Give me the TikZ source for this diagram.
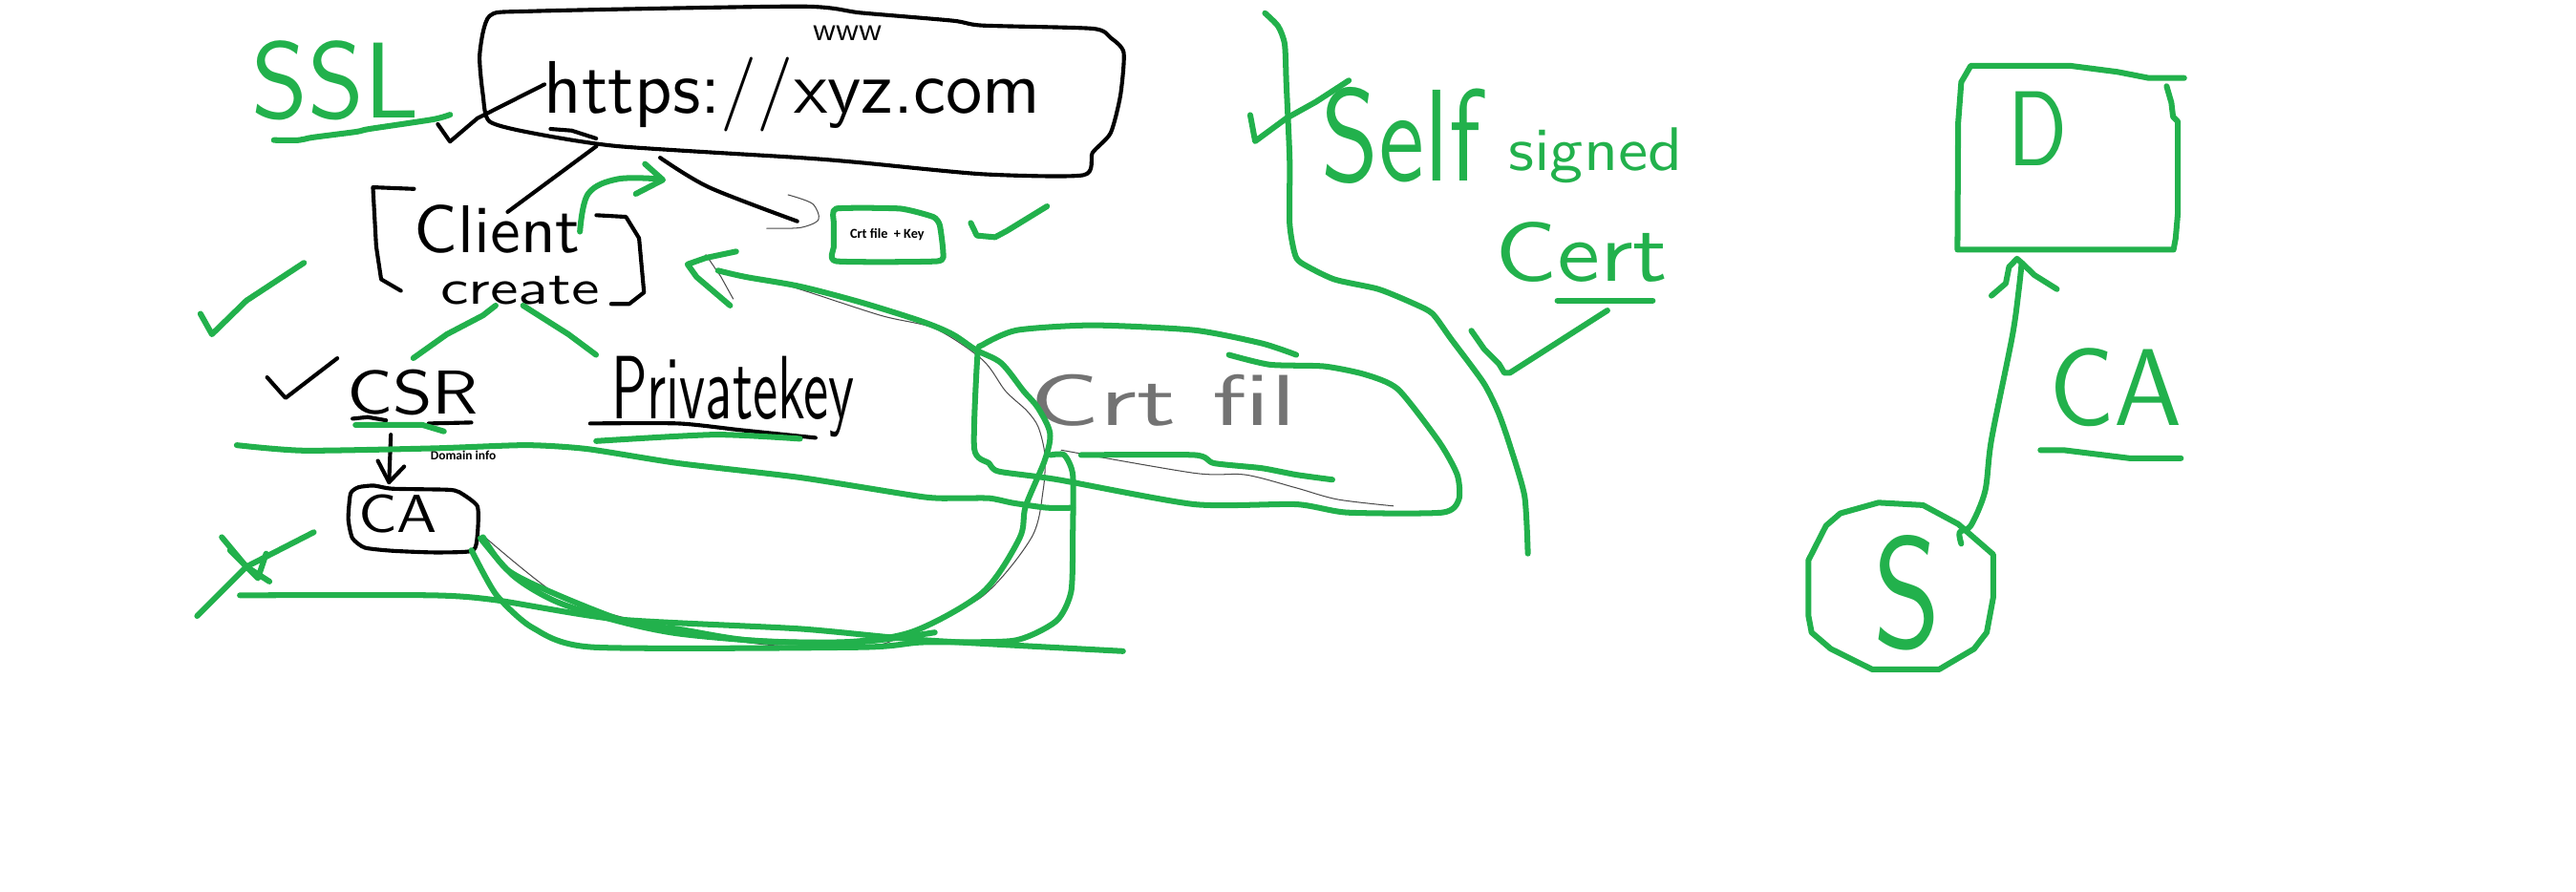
\documentclass[tikz,border=0pt]{standalone}
\usepackage{fontspec}
\usepackage{graphicx}
\newfontfamily\calib{Carlito}
\definecolor{pg}{RGB}{34,177,76}
\tikzset{
 gline/.style={draw=pg, line width=3.5pt, line cap=round, line join=round},
 bline/.style={draw=black, line width=2.4pt, line cap=round, line join=round},
 tline/.style={draw=black!70, line width=0.6pt, line cap=round, line join=round},
 hand/.style={anchor=base west, inner sep=0pt, font=\sffamily},
 small/.style={inner sep=0pt, font=\calib\bfseries\fontsize{8.3}{9}\selectfont},
}
\begin{document}
\begin{tikzpicture}[x=1pt,y=-1pt]
\useasboundingbox[fill=white] (0,0) rectangle (1568,543);

% ---------- texts ----------
\node[hand,text=pg] (ssl) at (153,72) {\resizebox{102pt}{47pt}{SSL}};
\node[hand] (url) at (331,69) {\resizebox{302pt}{34pt}{https://xyz.com}};
\node[hand] (www) at (495,25) {\resizebox{42pt}{9pt}{www}};
\node[hand] (client) at (252,154) {\resizebox{101pt}{29pt}{Client}};
\node[hand] (create) at (268,185) {\resizebox{97pt}{17pt}{create}};
\node[small] (crtkey) at (540,143) {Crt file \ + Key};
\node[hand] (csr) at (211,252) {\resizebox{80pt}{27pt}{CSR}};
\node[hand] (pkey) at (372,255) {\resizebox{148pt}{38pt}{Privatekey}};
\node[small, font=\calib\bfseries\fontsize{7.8}{9}\selectfont] (dom) at (282,277) {Domain info};
\node[hand] (ca1) at (218,324) {\resizebox{48pt}{23pt}{CA}};
\node[hand,text=black!55] (crtfil) at (627,259) {\resizebox{162pt}{31pt}{Crt fil}};
\node[hand,text=pg] (self) at (804,110) {\resizebox{97pt}{57pt}{Self}};
\node[hand,text=pg] (signed) at (918,104) {\resizebox{106pt}{26pt}{signed}};
\node[hand,text=pg] (cert) at (910,171) {\resizebox{105pt}{36pt}{Cert}};
\node[hand,text=pg] (d) at (1222,101) {\resizebox{36pt}{45pt}{D}};
\node[hand,text=pg] (ca2) at (1247,259) {\resizebox{81pt}{47pt}{CA}};
\node[hand,text=pg] (s) at (1140,394) {\resizebox{41pt}{68pt}{S}};

% ---------- black strokes ----------
% url box
\draw[bline] plot[smooth cycle, tension=0.4] coordinates {(298,9.7) (324,6.8) (487,3.9) (524,7.8) (580,12.6) (598,15.5) (665,17.4) (676,23) (684,32) (682,58) (676,81) (665,93) (659.5,106.6) (598,106) (524,99) (487,96) (376,89) (324,81) (298,74) (294,58) (292,33)};
% check near SSL
\draw[bline] (266.5,75.6) -- (273.9,86.2) -- (290.6,72) -- (331.4,51.4);
\draw[bline] (335.1,78.5) -- (348,79.5) -- (362.9,84.3);
% client brackets
\draw[bline] (244,177) -- (232,170) -- (229,150) -- (227,114) -- (252,115);
\draw[bline] (363,131) -- (381,132) -- (389,145) -- (392,178) -- (383,185) -- (372,185);
% lines from url box
\draw[bline] (309,129) -- (363,89);
\draw[bline] plot[smooth, tension=0.5] coordinates {(401.8,96) (431.5,114) (485.3,134.7)};
\draw[tline] plot[smooth, tension=0.5] coordinates {(479.7,118.6) (494.5,124) (498.2,133.7) (487,138.6) (466.7,139)};
% CSR check, underlines, arrow
\draw[bline] (162.6,229.7) -- (173.8,242.3) -- (205.3,218.1);
\draw[bline] (214.6,254.9) -- (223.8,253.9) -- (235,255.9);
\draw[bline] (260.9,257.8) -- (286.9,257.2);
\draw[bline] (237.9,264.6) -- (236.8,293.6);
\draw[bline] (230,280.5) -- (236.8,293.6) -- (246,284);
\draw[bline] plot[smooth, tension=0.4] coordinates {(359.2,257.8) (413,257.8) (450,261.7) (496.4,266.5)};
% CA box
\draw[bline] plot[smooth cycle, tension=0.35] coordinates {(218.3,296.6) (227.5,295.6) (238.7,297.5) (272,298.1) (279.4,299.5) (290.6,308.2) (290.6,325.6) (287.6,335.3) (264.6,336.3) (238.7,335.3) (222,333.4) (214.5,327.6) (212,315.9) (213.4,300.4)};

% ---------- thin strokes ----------
\draw[tline] plot[smooth, tension=0.5] coordinates {(294,326) (339,362) (376,375) (432,387) (473,393) (532,393) (554,384) (598,363) (628,327) (635,298) (636,277) (632,260) (625,250) (612,238) (598,219) (569,200) (536,192) (480,174) (452,168)};
\draw[tline] (429.6,155) -- (438.9,168.6) -- (446.3,182);
\draw[tline] plot[smooth, tension=0.5] coordinates {(646,274) (727,288) (758,289) (789,297) (814,304) (848,308)};

% ---------- green strokes ----------
\draw[gline] plot[smooth, tension=0.4] coordinates {(166.7,85.3) (182,85.3) (190,83.7) (217,80.2) (224.8,78.5) (263.5,72.7) (274,69.8)};
% Crt file + Key box
\draw[gline] plot[smooth cycle, tension=0.3] coordinates {(509,127) (548,127) (568,132) (572,137) (574,153) (570.5,159) (509,159) (507.5,150) (507.5,135.7)};
% arrow client -> url
\draw[gline] plot[smooth, tension=0.6] coordinates {(353,141) (358,118) (376,109) (402,109)};
\draw[gline] (392.6,99.8) -- (403.5,109.5) -- (387,118);
% checks
\draw[gline] (590.9,135.7) -- (594.6,143.4) -- (605.7,144.4) -- (613,140.5) -- (637.3,125.6);
\draw[gline] (122,191) -- (129,203.5) -- (150,183) -- (185,160);
% lines below create
\draw[gline] (251.6,218) -- (272,203.5) -- (294,192) -- (301.7,186);
\draw[gline] (318.4,186) -- (346,203.5) -- (362.8,216);
% underlines
\draw[gline] (216.4,258.7) -- (257.2,258.7) -- (270.2,262.6);
\draw[gline] plot[smooth, tension=0.4] coordinates {(362.9,268.5) (435.2,264.6) (487,267.1)};
% long horizontals
\draw[gline] plot[smooth, tension=0.4] coordinates {(144.1,271) (184.9,274.3) (264.6,272.9) (320.2,271) (357.3,273.3) (412.9,282) (487.1,290.7) (561.2,302.4) (581.4,303.3) (602.2,303.3) (616.7,306.2) (637.4,309.1) (653,309.1)};
\draw[gline] plot[smooth, tension=0.4] coordinates {(146,362.4) (262.8,362.4) (301.7,365.3) (375.9,377) (487.1,382.8) (561.2,389.6) (683.6,396.4)};
% X mark
\draw[gline] (135,327) -- (150,345) -- (164,354);
\draw[gline] (191,324) -- (150,345) -- (120,375);
\draw[gline] (140,335) -- (157,352) -- (162,337);
% arrow head back to client
\draw[gline] (448.1,153.1) -- (429.6,157) -- (418.5,160.9) -- (424,168.6) -- (444.4,186);
% big loop
\draw[gline] plot[smooth, tension=0.5] coordinates {(437,164.7) (454,168.6) (487.1,174.4) (524.2,184.1) (561.2,195.7) (579.8,203.5) (594,213) (609.4,221) (623,238) (631.7,248.1) (639.1,263.6) (636,280) (624.3,308.2) (620.6,327.6) (598.3,360.5) (557.5,383.8) (520.5,390.5) (468.7,390.5) (412.9,385.7) (375.9,378) (338.8,366.3) (312.8,350.8) (292.4,327.6)};
\draw[gline] plot[smooth, tension=0.4] coordinates {(639.5,277) (647.8,277) (653,289) (653,325) (652,360) (643,378) (617,390) (561,391) (524,394) (361,394) (324,382) (302,362) (287,335)};
\draw[gline] plot[smooth, tension=0.5] coordinates {(294,327) (309,347) (339,362) (383,379) (413,383) (458,390) (520,391) (569,385)};
% crt fil enclosure
\draw[gline] plot[smooth, tension=0.4] coordinates {(789,216) (768,209) (727,201) (665,198) (619,201) (598,210) (595,216) (593,273) (602,282) (608,287) (644,292) (727,307) (789,307) (820,312) (878,312) (888,304) (887,289) (876,269) (851,237) (831,228) (806,223) (773,222) (748,216)};
\draw[gline] plot[smooth, tension=0.4] coordinates {(658,277) (727,277) (739,282) (768,285) (789,289) (811,292)};
% self signed divider
\draw[gline] plot[smooth, tension=0.4] coordinates {(770,8) (778,16) (782,27) (783,51) (785,97) (785,136) (788,154) (792,160) (812,170) (839,176) (861,185) (872,191) (883,206) (903,233) (912,251) (919,271) (928,302) (930,337)};
\draw[gline] (761,70) -- (764,86) -- (783,72) -- (801,62) -- (821,49);
\draw[gline] (948,183) -- (1006,183);
\draw[gline] (895.6,201.3) -- (903.4,212.5) -- (912.4,221.5) -- (915.7,227) -- (919,227) -- (978.4,189);
% D box
\draw[gline] (1329.5,47.5) -- (1308,47.5) -- (1288.8,43.75) -- (1259.7,40) -- (1199.6,40) -- (1193.8,50) -- (1191.9,75) -- (1191.5,152) -- (1323,152) -- (1324.3,145) -- (1325.6,130) -- (1325.6,74) -- (1322.7,71) -- (1321.7,62.5) -- (1318.8,52.5);
% S circle
\draw[gline] (1100.8,341) -- (1111.5,320) -- (1120.2,312.5) -- (1143.4,306) -- (1170.5,307.5) -- (1191.9,319) -- (1213.2,337.5) -- (1213.2,364) -- (1209.3,385) -- (1201.6,395) -- (1180.3,407.5) -- (1139.6,407.5) -- (1114.4,395) -- (1102.7,385) -- (1100.8,375) -- cycle;
% arrow S -> D
\draw[gline] plot[smooth, tension=0.5] coordinates {(1193.8,331) (1192.8,324) (1199.6,320) (1208.3,299) (1212.2,267.5) (1224.8,205) (1228.7,177.5) (1230.6,160)};
\draw[gline] (1212.2,180) -- (1220.9,172.5) -- (1222.9,162.5) -- (1227.7,157.5) -- (1230.6,160) -- (1238.4,167.5) -- (1252,176);
% CA underline
\draw[gline] (1242,274) -- (1256,274) -- (1296.5,279) -- (1327.5,279);
\end{tikzpicture}
\end{document}
